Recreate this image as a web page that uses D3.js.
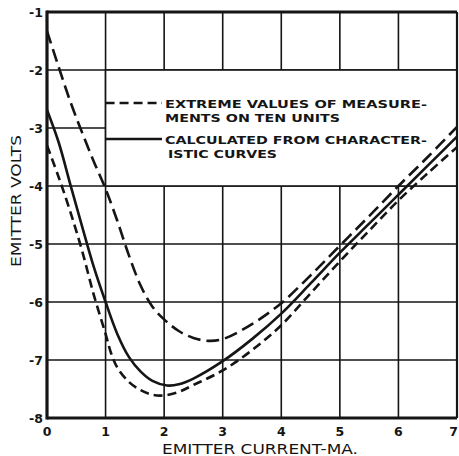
<!DOCTYPE html>
<html><head><meta charset="utf-8">
<script src="https://cdn.jsdelivr.net/npm/d3@7"></script>
<style>body{margin:0;background:#fff}svg{display:block}</style>
</head><body><svg id="c" width="459" height="456"></svg>
<script>
const xTicks = [0,1,2,3,4,5,6,7];
const yTicks = [-1,-2,-3,-4,-5,-6,-7,-8];
const upperX = [0,0.2,0.4,0.6,0.8,1.0,1.2,1.4,1.6,1.8,2.0,2.25,2.5,2.75,3,3.5,4,4.5,5,5.5,6,6.5,7];
const upperY = [-1.33,-1.95,-2.55,-3.08,-3.58,-4.05,-4.6,-5.2,-5.72,-6.08,-6.3,-6.5,-6.62,-6.67,-6.64,-6.38,-6.02,-5.54,-5.03,-4.52,-4.0,-3.5,-2.98];
const calcX = [0,0.2,0.4,0.6,0.8,1.0,1.2,1.4,1.6,1.8,2.05,2.25,2.5,3,3.5,4,4.5,5,5.5,6,6.5,7];
const calcY = [-2.69,-3.25,-3.98,-4.7,-5.4,-6.0,-6.55,-6.95,-7.2,-7.36,-7.44,-7.42,-7.32,-7.02,-6.64,-6.2,-5.68,-5.15,-4.65,-4.15,-3.65,-3.15];
const lowerX = [0,0.2,0.4,0.6,0.8,1.0,1.1,1.2,1.4,1.6,1.8,2.0,2.25,2.5,3,3.5,4,4.5,5,5.5,6,6.5,7];
const lowerY = [-3.3,-3.85,-4.45,-5.12,-5.88,-6.55,-6.9,-7.13,-7.38,-7.52,-7.6,-7.61,-7.55,-7.43,-7.18,-6.83,-6.4,-5.85,-5.3,-4.77,-4.25,-3.78,-3.33];
const legendLines = [["EXTREME VALUES OF MEASURE-","MENTS ON TEN UNITS"],["CALCULATED FROM CHARACTER-","ISTIC CURVES"]];
const xTitle = "EMITTER CURRENT-MA.";
const yTitle = "EMITTER VOLTS";

const svg = d3.select("#c");
const L=47,R=457,T=12,B=418;
const x = d3.scaleLinear().domain([0,7]).range([L,R]);
const y = d3.scaleLinear().domain([-1,-8]).range([T,B]);
const ink = "#151515";
const g = svg.append("g");

// grid
g.selectAll(".vg").data(xTicks.slice(1,-1)).join("line")
  .attr("x1",d=>x(d)).attr("x2",d=>x(d)).attr("y1",T).attr("y2",B)
  .attr("stroke",ink).attr("stroke-width",1.6);
g.selectAll(".hg").data(yTicks.slice(1,-1)).join("line")
  .attr("x1",L).attr("x2",R).attr("y1",d=>y(d)).attr("y2",d=>y(d))
  .attr("stroke",ink).attr("stroke-width",1.6);
// legend box
g.append("rect").attr("x",x(1)).attr("y",y(-2)).attr("width",x(7)-x(1)).attr("height",y(-4)-y(-2))
  .attr("fill","#fff").attr("stroke",ink).attr("stroke-width",1.6);

// curves
const line = d3.line().curve(d3.curveCatmullRom.alpha(0.5)).x(d=>x(d[0])).y(d=>y(d[1]));
const series = [
  {xs:upperX, ys:upperY, dash:"13,6"},
  {xs:calcX, ys:calcY, dash:null},
  {xs:lowerX, ys:lowerY, dash:"9,5"}
];
series.forEach(s=>{
  const pts = s.xs.map((v,i)=>[v,s.ys[i]]);
  const p = g.append("path").attr("d",line(pts)).attr("fill","none")
    .attr("stroke",ink).attr("stroke-width",2.6);
  if(s.dash) p.attr("stroke-dasharray",s.dash);
});

// border
g.append("line").attr("x1",L).attr("x2",R).attr("y1",T).attr("y2",T).attr("stroke",ink).attr("stroke-width",3);
g.append("line").attr("x1",L).attr("x2",R).attr("y1",B).attr("y2",B).attr("stroke",ink).attr("stroke-width",3);
g.append("line").attr("x1",L).attr("x2",L).attr("y1",T-1.5).attr("y2",B+1.5).attr("stroke",ink).attr("stroke-width",3.2);
g.append("line").attr("x1",R).attr("x2",R).attr("y1",T).attr("y2",B).attr("stroke",ink).attr("stroke-width",2.2);

// tick labels
const font = "'DejaVu Sans', sans-serif";
g.selectAll(".yl").data(yTicks).join("text")
  .attr("x",L-4).attr("y",d=>y(d)+4.5).attr("text-anchor","end")
  .attr("font-family",font).attr("font-weight","bold").attr("font-size",12.5).attr("fill",ink)
  .text(d=>String(d));
g.selectAll(".xl").data(xTicks).join("text")
  .attr("x",d=>d===7?458:x(d)).attr("y",436).attr("text-anchor",d=>d===7?"end":"middle")
  .attr("font-family",font).attr("font-weight","bold").attr("font-size",12.5).attr("fill",ink)
  .text(d=>String(d));

// titles
g.append("text").attr("x",162).attr("y",454).attr("textLength",196).attr("lengthAdjust","spacingAndGlyphs")
  .attr("font-family",font).attr("font-size",14.5).attr("fill",ink).text(xTitle);
g.append("text").attr("transform","translate(21,267) rotate(-90)").attr("textLength",132).attr("lengthAdjust","spacingAndGlyphs")
  .attr("font-family",font).attr("font-size",14.5).attr("fill",ink).text(yTitle);

// legend
const legY = [103, 139];
const legW = [[262,175],[262,109]];
const legX0 = [[165,165],[165,168]];
g.append("line").attr("x1",x(1)).attr("x2",162).attr("y1",legY[0]).attr("y2",legY[0])
  .attr("stroke",ink).attr("stroke-width",2.6).attr("stroke-dasharray","9,5");
g.append("line").attr("x1",x(1)).attr("x2",162).attr("y1",legY[1]).attr("y2",legY[1])
  .attr("stroke",ink).attr("stroke-width",2.6);
legendLines.forEach((ls,i)=>{
  ls.forEach((t,j)=>{
    g.append("text").attr("x",legX0[i][j]).attr("y",legY[i]+5+j*13.5)
      .attr("textLength",legW[i][j]).attr("lengthAdjust","spacingAndGlyphs")
      .attr("font-family",font).attr("font-weight","bold").attr("font-size",11).attr("fill",ink).text(t);
  });
});
</script></body></html>
